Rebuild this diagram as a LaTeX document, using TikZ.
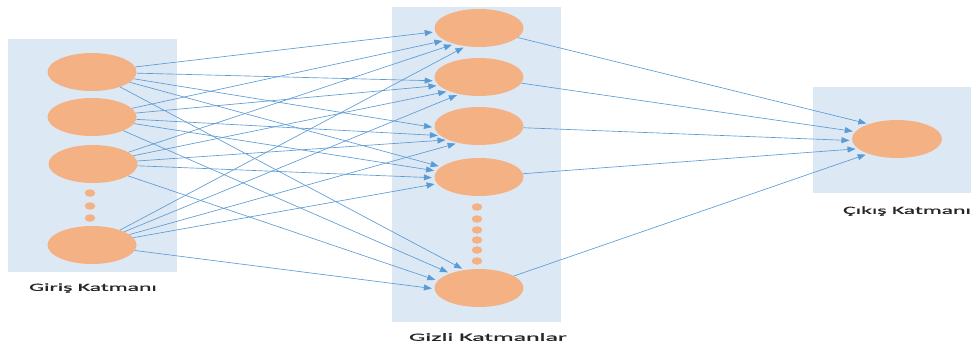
\documentclass[tikz,border=0pt]{standalone}
\usepackage{fontspec}
\usepackage{graphicx}
\setmainfont{Carlito}[FakeBold=0.7]
\usetikzlibrary{shapes.geometric,arrows.meta}
\definecolor{panelblue}{HTML}{DDE8F5}
\definecolor{neuronfill}{HTML}{F4B183}
\definecolor{linkblue}{HTML}{5B9BD5}
\definecolor{labelgray}{HTML}{262626}
% wide, stretched caption lettering
\newcommand\layertext[2][2.15]{\scalebox{#1}[1]{#2}}
\begin{document}
\begin{tikzpicture}[x=1pt,y=-1pt,
  panel/.style={fill=panelblue,draw=none},
  neuron/.style={ellipse,fill=neuronfill,draw=none,minimum width=89pt,minimum height=38pt,inner sep=0pt},
  dotnode/.style={ellipse,fill=neuronfill,draw=none,minimum width=10.5pt,minimum height=7.5pt,inner sep=0pt},
  link/.style={draw=linkblue,line width=0.65pt,shorten >=2.5pt,-{Triangle[length=8pt,width=6pt]}},
  layerlabel/.style={text=labelgray,font=\fontsize{11}{13}\selectfont,inner sep=0pt}]
\useasboundingbox (0,0) rectangle (974,343);

% layer panels
\fill[panel] (8,39) rectangle (177,272);
\fill[panel] (392,7) rectangle (561,322);
\fill[panel] (813,87) rectangle (971,193);

% input layer
\node[neuron] (in1) at (92,72) {};
\node[neuron] (in2) at (92,117) {};
\node[neuron] (in3) at (93,164) {};
\node[neuron] (in4) at (92,245) {};
\node[dotnode] (idot1) at (90,193) {};
\node[dotnode] (idot2) at (90,206) {};
\node[dotnode] (idot3) at (90,218) {};

% hidden layer
\node[neuron] (hid1) at (479,28) {};
\node[neuron] (hid2) at (479,77) {};
\node[neuron] (hid3) at (479,126) {};
\node[neuron] (hid4) at (479,177) {};
\node[neuron] (hid5) at (479,288) {};
\foreach \k/\y in {1/207,2/219,3/230,4/240,5/250,6/261}
  \node[dotnode] (hdot\k) at (477,\y) {};

% output layer
\node[neuron,minimum width=90pt] (out) at (897,139) {};

% input -> hidden: each arrow lands at its own point of the target's rim
\foreach \h/\aa/\ab/\ac/\ad in {hid1/185/200/213/234, hid2/185/192/205/221,
                                hid3/182/194/204/219, hid4/165/172/181/189,
                                hid5/129/153/170/181}{
  \draw[link] (in1) -- (\h.\aa);
  \draw[link] (in2) -- (\h.\ab);
  \draw[link] (in3) -- (\h.\ac);
  \draw[link] (in4) -- (\h.\ad);
}
% hidden -> output
\foreach \h/\a in {hid1/152, hid2/170, hid3/182, hid4/194, hid5/207}
  \draw[link] (\h) -- (out.\a);

% captions
\node[layerlabel] (lin) at (93,288) {\layertext{Giriş Katmanı}};
\node[layerlabel] (lhid) at (488,337) {\layertext[2.35]{Gizli Katmanlar}};
\node[layerlabel] (lout) at (907,211) {\layertext{Çıkış Katmanı}};
\end{tikzpicture}
\end{document}
